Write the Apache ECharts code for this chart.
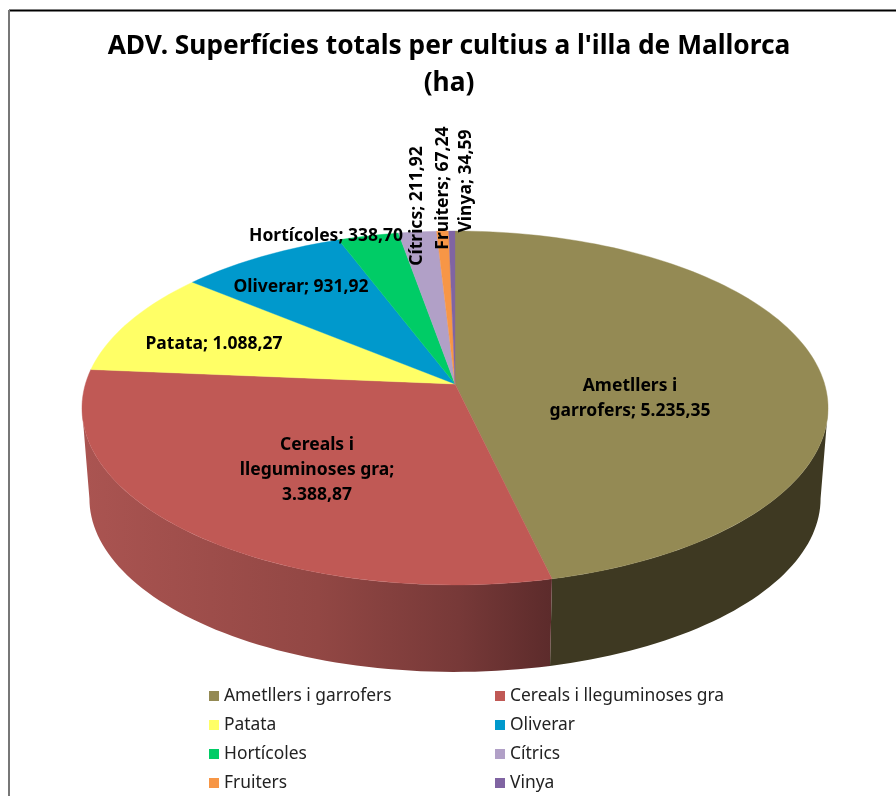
<!DOCTYPE html>
<html>
<head>
<meta charset="utf-8">
<title>ADV</title>
<script src="https://cdn.jsdelivr.net/npm/echarts@6/dist/echarts.min.js"></script>
<style>
html, body { margin: 0; padding: 0; background: #fff; overflow: hidden; }
#chart { width: 896px; height: 796px; }
</style>
</head>
<body>
<div id="chart"></div>
<script>
// dades llegides de les etiquetes del gràfic
const categories = ['Ametllers i garrofers', 'Cereals i lleguminoses gra', 'Patata', 'Oliverar', 'Hortícoles', 'Cítrics', 'Fruiters', 'Vinya'];
const values = [5235.35, 3388.87, 1088.27, 931.92, 338.70, 211.92, 67.24, 34.59];
const valueLabels = ['5.235,35', '3.388,87', '1.088,27', '931,92', '338,70', '211,92', '67,24', '34,59'];
const labelPrefixes = ['Ametllers i\ngarrofers; ', 'Cereals i\nlleguminoses gra;\n', 'Patata; ', 'Oliverar; ', 'Hortícoles; ', 'Cítrics; ', 'Fruiters; ', 'Vinya; '];

const colors = ['#948A54', '#C05955', '#FFFF66', '#0099CC', '#00CC66', '#B1A0C7', '#F79646', '#8064A2'];
const labelPos = [[630, 399], [317, 469], [214, 344], [301, 287], [326, 236], [417, 206], [443, 188], [466, 181]];
const labelRotated = [false, false, false, false, false, true, true, true];

// geometria del pastís (perspectiva)
const apexX = 455, apexY = 384;
const radiusX = 369.6, radiusY = 173.7, persp = 0.1355;
const depthY = 91, depthScale = 0.98;

const total = values.reduce((a, b) => a + b, 0);

// angle en graus des de dalt, en sentit horari -> punt de la cara de dalt
function project(deg, bottom) {
    const t = deg * Math.PI / 180;
    const u = Math.sin(t), v = -Math.cos(t);
    const w = 1 - persp * v;
    const s = bottom ? depthScale : 1;
    return [apexX + u / w * radiusX * s, apexY + v / w * radiusY * s + (bottom ? depthY : 0)];
}

function arc(from, to, bottom) {
    const pts = [];
    const steps = Math.max(2, Math.ceil((to - from) / 1.5));
    for (let i = 0; i <= steps; i++) {
        pts.push(project(from + (to - from) * i / steps, bottom));
    }
    return pts;
}

// només es veu el lateral de la part de davant
const frontStart = Math.acos(-persp) * 180 / Math.PI;
const frontEnd = 360 - frontStart;

function sideFill(i) {
    if (i === 0) {
        return '#3E3922';
    }
    return {
        type: 'linear', x: 85, y: 0, x2: 552, y2: 0, global: true,
        colorStops: [
            { offset: 0, color: '#AA5451' },
            { offset: 0.5, color: '#924744' },
            { offset: 0.8, color: '#773938' },
            { offset: 1, color: '#5C2B2B' }
        ]
    };
}

function makeRender(i) {
    return function (params, api) {
        const before = values.slice(0, i).reduce((a, b) => a + b, 0);
        const start = before / total * 360;
        const end = start + api.value(0) / total * 360;
        const children = [];

        const a = Math.max(start, frontStart), b = Math.min(end, frontEnd);
        if (b > a) {
            children.push({
                type: 'polygon',
                z2: 1,
                shape: { points: arc(a, b, false).concat(arc(a, b, true).reverse()) },
                style: { fill: sideFill(i) }
            });
        }

        children.push({
            type: 'polygon',
            z2: 5,
            shape: { points: [[apexX, apexY]].concat(arc(start, end, false)) },
            style: { fill: colors[i], stroke: colors[i], lineWidth: 0.4 }
        });

        children.push({
            type: 'text',
            z2: 10,
            x: labelPos[i][0],
            y: labelPos[i][1] + (i === 1 ? 1 : 0),
            rotation: labelRotated[i] ? Math.PI / 2 : 0,
            style: {
                text: labelPrefixes[i] + valueLabels[i],
                fill: '#000',
                font: 'bold 17.5px "Noto Sans"',
                lineHeight: 25,
                align: 'center',
                verticalAlign: 'middle'
            }
        });
        return { type: 'group', children: children };
    };
}

const series = categories.map((name, i) => ({
    type: 'custom',
    name: name,
    coordinateSystem: 'none',
    silent: true,
    animation: false,
    itemStyle: { color: colors[i] },
    data: [[values[i]]],
    renderItem: makeRender(i)
}));

function legendColumn(names, left) {
    return {
        data: names,
        orient: 'vertical',
        left: left,
        top: 686,
        itemWidth: 10,
        itemHeight: 10,
        itemGap: 9,
        icon: 'rect',
        selectedMode: false,
        padding: 0,
        textStyle: { fontFamily: 'Noto Sans', fontSize: 17.4, color: '#222', lineHeight: 20 }
    };
}

const chart = echarts.init(document.getElementById('chart'), null, { renderer: 'canvas' });
chart.setOption({
    animation: false,
    backgroundColor: '#fff',
    title: {
        text: "ADV. Superfícies totals per cultius a l'illa de Mallorca\n(ha)",
        left: 444,
        top: 23,
        textAlign: 'center',
        textStyle: { fontFamily: 'Noto Sans', fontSize: 26.3, fontWeight: 'bold', color: '#000', lineHeight: 37 }
    },
    legend: [
        legendColumn(categories.filter((c, i) => i % 2 === 0), 209),
        legendColumn(categories.filter((c, i) => i % 2 === 1), 495)
    ],
    graphic: [
        { type: 'line', shape: { x1: 9, y1: 10.5, x2: 896, y2: 10.5 }, style: { stroke: '#000', lineWidth: 2 } },
        { type: 'line', shape: { x1: 9, y1: 10, x2: 9, y2: 796 }, style: { stroke: '#777', lineWidth: 2 } }
    ],
    series: series
});
</script>
</body>
</html>
